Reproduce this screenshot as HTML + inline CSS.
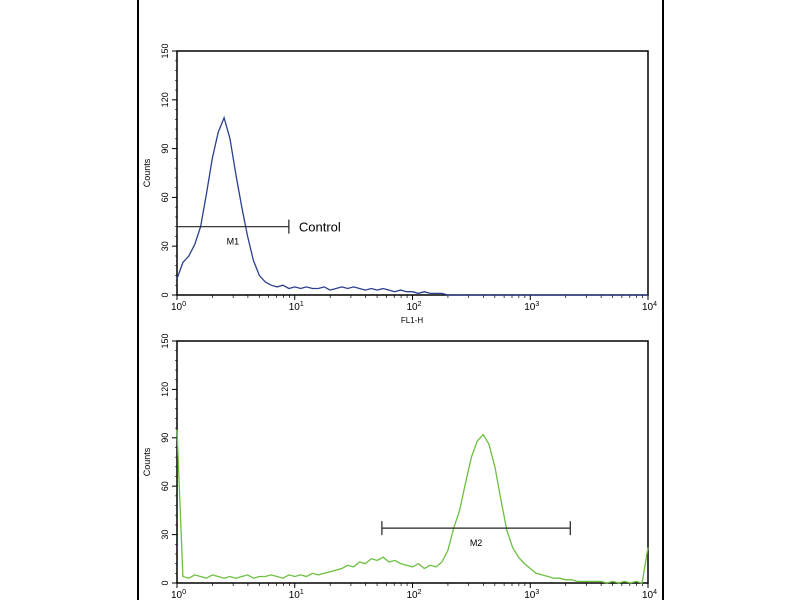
<!DOCTYPE html>
<html><head><meta charset="utf-8"><style>
body{margin:0;background:#fff;}
svg{display:block;font-family:"Liberation Sans",sans-serif;}
</style></head><body>
<svg id="c" width="800" height="600">
<rect x="138" y="-2" width="525" height="610" fill="#fff" stroke="#000" stroke-width="2"/>
</svg>
<script>
const logX=[0,0.05,0.1,0.15,0.2,0.25,0.3,0.35,0.4,0.45,0.5,0.55,0.6,0.65,0.7,0.75,0.8,0.85,0.9,0.95,1,1.05,1.1,1.15,1.2,1.25,1.3,1.35,1.4,1.45,1.5,1.55,1.6,1.65,1.7,1.75,1.8,1.85,1.9,1.95,2,2.05,2.1,2.15,2.2,2.25,2.3,2.35,2.4,2.45,2.5,2.55,2.6,2.65,2.7,2.75,2.8,2.85,2.9,2.95,3,3.05,3.1,3.15,3.2,3.25,3.3,3.35,3.4,3.45,3.5,3.55,3.6,3.65,3.7,3.75,3.8,3.85,3.9,3.95,4];
const controlCounts=[10,20,24,31,42,62,84,100,109,96,74,54,36,21,12,8,6,5,6,4,5,4,5,4,4,5,3,4,5,4,5,4,3,4,3,4,3,2,3,2,2,1,2,1,1,1,0,0,0,0,0,0,0,0,0,0,0,0,0,0,0,0,0,0,0,0,0,0,0,0,0,0,0,0,0,0,0,0,0,0,0];
const sampleCounts=[95,4,3,5,4,3,5,4,3,4,3,4,5,3,4,4,5,4,3,5,4,5,4,6,5,6,7,8,9,11,10,13,12,15,14,16,13,14,12,11,10,12,9,11,10,13,20,34,45,62,78,88,92,86,72,52,33,22,16,12,9,6,5,4,3,3,2,2,1,1,1,1,1,0,1,0,1,0,1,0,22];
const yTicks=[0,30,60,90,120,150];
const xDecades=[0,1,2,3,4];
const panels=[
 {name:'control',top:51,bot:295,counts:controlCounts,color:'#2b3f8f',gate:[0,0.95],gateY:42,gateLabel:'M1',xlabel:true},
 {name:'sample',top:341,bot:583,counts:sampleCounts,color:'#6cc040',gate:[1.74,3.34],gateY:34,gateLabel:'M2',xlabel:false}
];
const svg=document.getElementById('c');const NS='http://www.w3.org/2000/svg';
function el(t,a,p){const e=document.createElementNS(NS,t);for(const k in a)e.setAttribute(k,a[k]);(p||svg).appendChild(e);return e;}
const L=177,R=648;
const xs=v=>L+(R-L)*v/4;
panels.forEach(P=>{
 const ys=v=>P.bot-(P.bot-P.top)*v/150;
 const g=el('g',{});
 
 
 const box=el('rect',{x:L,y:P.top,width:R-L,height:P.bot-P.top,fill:'none',stroke:'#000','stroke-width':1.5},g);
 
 yTicks.forEach(t=>{
  el('line',{x1:L-5,x2:L,y1:ys(t),y2:ys(t),stroke:'#000'},g);
  const tx=el('text',{x:0,y:0,'font-size':9,'text-anchor':'middle',transform:`translate(${L-9},${ys(t)}) rotate(-90)`},g);
  tx.textContent=t;
  
 });
 for(let t=0;t<=150;t+=6)el('line',{x1:L-2,x2:L,y1:ys(t),y2:ys(t),stroke:'#000','stroke-width':0.6},g);
 const yl=el('text',{x:0,y:0,'font-size':9,'text-anchor':'middle',transform:`translate(150,${(P.top+P.bot)/2}) rotate(-90)`},g);
 yl.textContent='Counts';
 xDecades.forEach(d=>{
  el('line',{x1:xs(d),x2:xs(d),y1:P.bot,y2:P.bot+5,stroke:'#000'},g);
  if(d<4)for(let m=2;m<10;m++){const x=xs(d+Math.log10(m));el('line',{x1:x,x2:x,y1:P.bot,y2:P.bot+3,stroke:'#000','stroke-width':0.7},g);}
  const tx=el('text',{x:xs(d)-6,y:P.bot+15,'font-size':10},g);
  tx.innerHTML='10<tspan dy="-4" font-size="7">'+d+'</tspan>';
  
 });
 let d='';
 logX.forEach((v,i)=>{d+=(i?'L':'M')+xs(v).toFixed(1)+','+ys(P.counts[i]).toFixed(1);});
 const path=el('path',{d:d,fill:'none',stroke:P.color,'stroke-width':1.3},g);
 
 const gy=ys(P.gateY),x1=xs(P.gate[0]),x2=xs(P.gate[1]);
 const gl=el('path',{d:`M${x1},${gy}H${x2}M${x1},${gy-7}V${gy+7}M${x2},${gy-7}V${gy+7}`,stroke:'#222','stroke-width':1.2,fill:'none'},g);
 
 const lt=el('text',{x:(x1+x2)/2,y:gy+18,'font-size':9,'text-anchor':'middle'},g);
 lt.textContent=P.gateLabel;
 if(P.xlabel){
  const xt=el('text',{x:412,y:P.bot+28,'font-size':8,'text-anchor':'middle'},g);
  xt.textContent='FL1-H';
  const ct=el('text',{x:x2+10,y:gy+5,'font-size':13},g);
  ct.textContent='Control';
 }
});
</script>
</body></html>
